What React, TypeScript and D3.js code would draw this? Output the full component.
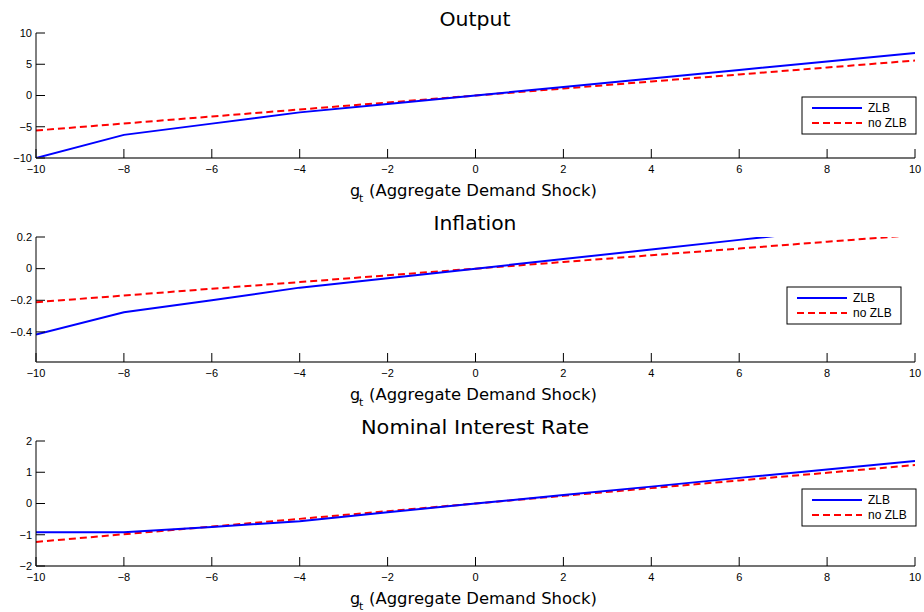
import React from 'react'
import * as d3 from 'd3'

// shock grid
const shocks = [-10, -8, -6, -4, -2, 0, 2, 4, 6, 8, 10]

const outputZLB = [-10, -6.3, -4.5, -2.7, -1.35, 0, 1.36, 2.72, 4.08, 5.44, 6.8]
const outputNoZLB = [-5.6, -4.48, -3.36, -2.24, -1.12, 0, 1.12, 2.24, 3.36, 4.48, 5.6]

const inflZLB = [-0.416, -0.275, -0.2, -0.12, -0.06, 0, 0.0606, 0.1212, 0.1818, 0.2424, 0.303]
const inflNoZLB = [-0.212, -0.17, -0.127, -0.085, -0.042, 0, 0.042, 0.085, 0.127, 0.17, 0.212]

const rateZLB = [-0.92, -0.92, -0.75, -0.57, -0.28, 0, 0.27, 0.54, 0.82, 1.09, 1.36]
const rateNoZLB = [-1.23, -0.984, -0.738, -0.492, -0.246, 0, 0.246, 0.492, 0.738, 0.984, 1.23]

const xTicks = [-10, -8, -6, -4, -2, 0, 2, 4, 6, 8, 10]

const panels = [
  {title: 'Output', titleW: 71, zlb: outputZLB, nozlb: outputNoZLB, domain: [-10, 10], ticks: [-10, -5, 0, 5, 10], fmt: (d: number) => String(d), top: 33, legendX: 802, legendY: 97},
  {title: 'Inflation', titleW: 83, zlb: inflZLB, nozlb: inflNoZLB, domain: [-0.59, 0.2], ticks: [-0.4, -0.2, 0, 0.2], fmt: (d: number) => (d === 0 ? '0' : d.toFixed(1)), top: 237, legendX: 787, legendY: 287},
  {title: 'Nominal Interest Rate', titleW: 228, zlb: rateZLB, nozlb: rateNoZLB, domain: [-2, 2], ticks: [-2, -1, 0, 1, 2], fmt: (d: number) => String(d), top: 441, legendX: 802, legendY: 489},
]

const W = 924
const H = 612
const left = 36
const right = 915
const plotH = 125
const labelFont = 'DejaVu Sans, sans-serif'
const tickFont = 'Liberation Sans, Arial, sans-serif'

const minus = (s: string) => s.replace('-', '\u2212')

function Panel({p, idx}: {p: typeof panels[number], idx: number}) {
  const x = d3.scaleLinear().domain([-10, 10]).range([left, right])
  const y = d3.scaleLinear().domain(p.domain).range([p.top + plotH, p.top])
  const line = d3.line<number>().x((_, i) => x(shocks[i])).y(d => y(d))
  const bottom = p.top + plotH
  const clipId = `clip${idx}`
  return (
    <g>
      <defs>
        <clipPath id={clipId}>
          <rect x={left} y={p.top} width={right - left} height={plotH} />
        </clipPath>
      </defs>
      <text x={475 - p.titleW / 2} y={p.top - 7} fontSize={20} fontFamily={labelFont} fill="#000"
        textLength={p.titleW} lengthAdjust="spacingAndGlyphs">{p.title}</text>
      <g clipPath={`url(#${clipId})`}>
        <path d={line(p.nozlb) || ''} fill="none" stroke="#ff0000" strokeWidth={2} strokeDasharray="7,4" />
        <path d={line(p.zlb) || ''} fill="none" stroke="#0000ff" strokeWidth={2} />
      </g>
      {/* axes */}
      <line x1={left} x2={left} y1={p.top} y2={bottom} stroke="#000" />
      <line x1={left} x2={right} y1={bottom} y2={bottom} stroke="#444" strokeWidth={1.5} />
      {p.ticks.map(t => (
        <g key={t}>
          <line x1={left} x2={left + 9} y1={y(t)} y2={y(t)} stroke="#000" />
          <text x={left - 4} y={y(t)} dy="0.35em" textAnchor="end" fontSize={11} fontFamily={tickFont}>{minus(p.fmt(t))}</text>
        </g>
      ))}
      {xTicks.map(t => (
        <g key={t}>
          <line x1={x(t)} x2={x(t)} y1={bottom} y2={bottom - 9} stroke="#000" />
          <text x={x(t)} y={bottom + 15} textAnchor="middle" fontSize={11} fontFamily={tickFont}>{minus(String(t))}</text>
        </g>
      ))}
      <text x={350} y={bottom + 38} fontSize={16} fontFamily={labelFont}>g</text>
      <text x={359} y={bottom + 44} fontSize={11} fontFamily={labelFont}>t</text>
      <text x={369} y={bottom + 38} fontSize={16} fontFamily={labelFont}
        textLength={228} lengthAdjust="spacingAndGlyphs">(Aggregate Demand Shock)</text>
      {/* legend */}
      <g transform={`translate(${p.legendX},${p.legendY})`}>
        <rect x={0} y={0} width={114} height={37} fill="#fff" stroke="#000" />
        <line x1={10} x2={60} y1={11} y2={11} stroke="#0000ff" strokeWidth={2} />
        <line x1={10} x2={60} y1={26} y2={26} stroke="#ff0000" strokeWidth={2} strokeDasharray="7,4" />
        <text x={66} y={11} dy="0.35em" fontSize={12} fontFamily={tickFont}>ZLB</text>
        <text x={66} y={26} dy="0.35em" fontSize={12} fontFamily={tickFont}>no ZLB</text>
      </g>
    </g>
  )
}

export default function App() {
  return (
    <svg width={W} height={H} style={{display: 'block', position: 'absolute', left: 0, top: 0, background: '#fff'}}>
      <rect width={W} height={H} fill="#fff" />
      {panels.map((p, i) => <Panel key={p.title} p={p} idx={i} />)}
    </svg>
  )
}
